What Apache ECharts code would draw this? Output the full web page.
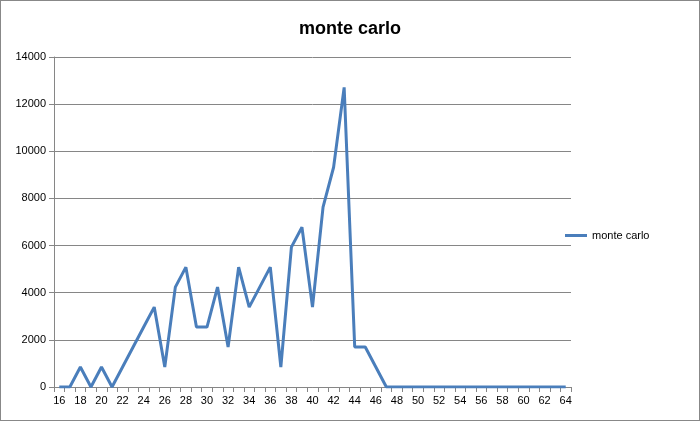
<!DOCTYPE html>
<html><head><meta charset="utf-8">
<script src="https://cdn.jsdelivr.net/npm/echarts@6/dist/echarts.min.js"></script>
<style>html,body{margin:0;padding:0;background:#fff}#c{width:700px;height:421px;box-sizing:border-box;border:1px solid #888}</style>
</head><body><div id="c"></div>
<script>
const categories = [];
for (let v = 16; v <= 64; v++) categories.push(String(v));
const seriesName = 'monte carlo';
const values = [0,0,848,0,848,0,848,1695,2543,3390,848,4238,5085,2543,2543,4238,1695,5085,3390,4238,5085,848,5933,6780,3390,7628,9323,12713,1695,1695,848,0,
0,0,0,0,0,0,0,0,0,0,0,0,0,0,0,0,0];
const yTicks = [0,2000,4000,6000,8000,10000,12000,14000];
const chart = echarts.init(document.getElementById('c'), null, {renderer:'canvas'});
chart.setOption({
  backgroundColor:'#fff',
  animation:false,
  title:{text:'monte carlo',left:'center',top:14,textStyle:{fontFamily:'Liberation Sans, Arial',fontSize:18,fontWeight:'bold',color:'#000'}},
  legend:{orient:'vertical',left:559,top:224,itemWidth:22,itemHeight:3,itemGap:4,icon:'rect',
    textStyle:{fontFamily:'Liberation Sans, Arial',fontSize:11,color:'#000'},data:[seriesName]},
  grid:{left:53,top:56,width:517,height:330,containLabel:false},
  xAxis:{type:'category',data:categories,boundaryGap:true,
    axisLine:{lineStyle:{color:'#868686'}},
    axisTick:{show:true,alignWithLabel:false,interval:0,length:5,lineStyle:{color:'#868686'}},
    axisLabel:{interval:1,color:'#000',fontFamily:'Liberation Sans, Arial',fontSize:11,margin:8},
    splitLine:{show:false}},
  yAxis:{type:'value',min:yTicks[0],max:yTicks[yTicks.length-1],interval:2000,
    axisLine:{show:true,lineStyle:{color:'#868686'}},
    axisTick:{show:true,length:5,lineStyle:{color:'#868686'}},
    axisLabel:{color:'#000',fontFamily:'Liberation Sans, Arial',fontSize:11,margin:8,formatter:function(v){return String(v);}},
    splitLine:{lineStyle:{color:'#868686',width:1}}},
  series:[{name:seriesName,type:'line',data:values,showSymbol:false,symbol:'none',
    lineStyle:{color:'#4a7ebb',width:3},itemStyle:{color:'#4a7ebb'}}]
});
</script></body></html>
